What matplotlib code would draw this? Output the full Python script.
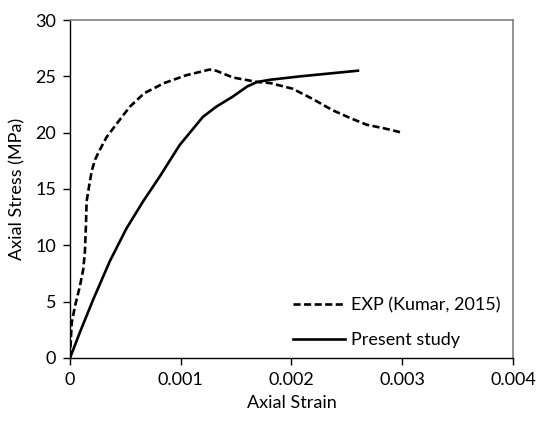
import matplotlib.pyplot as plt

plt.rcParams['font.family'] = ['Lato', 'DejaVu Sans']

# EXP (Kumar, 2015)
exp_strain = [0, 0.000015, 0.000045, 0.00009, 0.00012, 0.000135, 0.000144, 0.00015,
              0.000168, 0.000196, 0.000226, 0.00026, 0.00033, 0.00043, 0.00054, 0.00067,
              0.00085, 0.00105, 0.00126, 0.00132, 0.00147, 0.00169, 0.00181, 0.00201,
              0.00219, 0.00237, 0.00253, 0.00268, 0.00283, 0.003]
exp_stress = [0, 3.1, 4.6, 6.4, 7.9, 9.5, 11.8, 13.9,
              15.0, 16.6, 17.6, 18.3, 19.6, 20.9, 22.3, 23.5,
              24.4, 25.1, 25.6, 25.5, 24.9, 24.5, 24.4, 23.9,
              23.0, 22.0, 21.3, 20.7, 20.4, 20.0]

# Present study
model_strain = [0, 0.00009, 0.00021, 0.00036, 0.00051, 0.00066, 0.00081, 0.00099,
                0.0012, 0.00132, 0.00147, 0.0016, 0.00169, 0.00181, 0.00208, 0.0026]
model_stress = [0, 2.3, 5.2, 8.6, 11.5, 13.9, 16.1, 18.9,
                21.4, 22.3, 23.2, 24.1, 24.5, 24.7, 25.0, 25.5]

x_ticks = [0, 0.001, 0.002, 0.003, 0.004]
x_labels = ['0', '0.001', '0.002', '0.003', '0.004']
y_ticks = [0, 5, 10, 15, 20, 25, 30]

fig = plt.figure(figsize=(5.36, 4.23), dpi=100)
ax = fig.add_axes([0.1306, 0.1537, 0.8264, 0.799])

ax.plot(exp_strain, exp_stress, color='black', lw=1.9, ls=(0, (2.7, 1.3)),
        label='EXP (Kumar, 2015)')
ax.plot(model_strain, model_stress, color='black', lw=1.9, label='Present study')

ax.set_xlim(0, 0.004)
ax.set_ylim(0, 30)
ax.set_xticks(x_ticks)
ax.set_xticklabels(x_labels)
ax.set_yticks(y_ticks)

for s in ['top', 'right']:
    ax.spines[s].set_color('#808080')
    ax.spines[s].set_linewidth(1.2)
for s in ['left', 'bottom']:
    ax.spines[s].set_color('black')
    ax.spines[s].set_linewidth(1.0)

ax.tick_params(direction='out', length=5, width=1, labelsize=13, pad=5)
ax.set_xlabel('Axial Strain', fontsize=13, labelpad=5)
ax.set_ylabel('Axial Stress (MPa)', fontsize=13, labelpad=7)

ax.legend(loc='lower right', frameon=False, fontsize=13, handlelength=2.9,
          handletextpad=0.33, labelspacing=1.0, borderpad=0, borderaxespad=0,
          bbox_to_anchor=(0.972, 0.03))

fig.savefig('out.png', dpi=100)
